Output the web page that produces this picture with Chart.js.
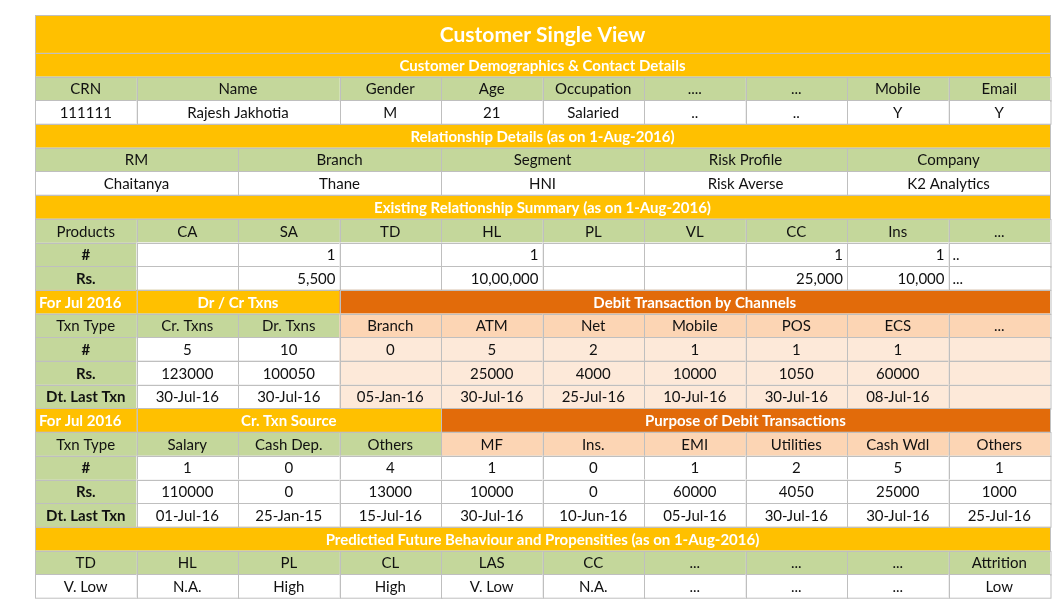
<!DOCTYPE html>
<html><head><meta charset="utf-8">
<script src="https://cdn.jsdelivr.net/npm/chart.js@4/dist/chart.umd.min.js"></script>
<style>html,body{margin:0;padding:0;background:#fff}#c{display:block}</style>
</head><body>
<div style="width:1060px;height:606px"><canvas id="c"></canvas></div>
<script>
// Each row: list of cells [span(columns of 10), text, style]
const rowHeights = [1.6,1,1,1,1,1,1,1,1,1,1,1,1,1,1,1,1,1,1,1,1,1,1,1];
const rowTitle = [[10,'Customer Single View','title']];
const rowDemoHead = [[10,'Customer Demographics & Contact Details','sec']];
const rowDemoCols = [[1,'CRN','g'],[2,'Name','g'],[1,'Gender','g'],[1,'Age','g'],[1,'Occupation','g'],[1,'....','g'],[1,'...','g'],[1,'Mobile','g'],[1,'Email','g']];
const rowDemoVals = [[1,'111111','w'],[2,'Rajesh Jakhotia','w'],[1,'M','w'],[1,'21','w'],[1,'Salaried','w'],[1,'..','w'],[1,'..','w'],[1,'Y','w'],[1,'Y','w']];
const rowRelHead = [[10,'Relationship Details (as on 1-Aug-2016)','sec']];
const rowRelCols = [[2,'RM','g'],[2,'Branch','g'],[2,'Segment','g'],[2,'Risk Profile','g'],[2,'Company','g']];
const rowRelVals = [[2,'Chaitanya','w'],[2,'Thane','w'],[2,'HNI','w'],[2,'Risk Averse','w'],[2,'K2 Analytics','w']];
const rowSumHead = [[10,'Existing Relationship Summary (as on 1-Aug-2016)','sec']];
const products = ['Products','CA','SA','TD','HL','PL','VL','CC','Ins','...'];
const productCounts = ['','1','','1','','','1','1'];
const productAmounts = ['','5,500','','10,00,000','','','25,000','10,000'];
const rowSumCols = products.map(t=>[1,t,'g']);
const rowSumCnt = [[1,'#','gB']].concat(productCounts.map(t=>[1,t,'wR']),[[1,'..','wL']]);
const rowSumAmt = [[1,'Rs.','gB']].concat(productAmounts.map(t=>[1,t,'wR']),[[1,'...','wL']]);
const rowChHead = [[1,'For Jul 2016','secL'],[2,'Dr / Cr Txns','sec'],[7,'Debit Transaction by Channels','dark']];
const channels = ['Branch','ATM','Net','Mobile','POS','ECS','...'];
const rowChCols = [[1,'Txn Type','g'],[1,'Cr. Txns','g'],[1,'Dr. Txns','g']].concat(channels.map(t=>[1,t,'p']));
const chCount = ['5','10','0','5','2','1','1','1',''];
const chAmount = ['123000','100050','','25000','4000','10000','1050','60000',''];
const chDate = ['30-Jul-16','30-Jul-16','05-Jan-16','30-Jul-16','25-Jul-16','10-Jul-16','30-Jul-16','08-Jul-16',''];
const chRow = (lab,arr)=>[[1,lab,'gB']].concat(arr.map((t,i)=>[1,t,i<2?'w':'lp']));
const rowPuHead = [[1,'For Jul 2016','secL'],[3,'Cr. Txn Source','sec'],[6,'Purpose of Debit Transactions','dark']];
const purposeCols = ['MF','Ins.','EMI','Utilities','Cash Wdl','Others'];
const rowPuCols = [[1,'Txn Type','g'],[1,'Salary','g'],[1,'Cash Dep.','g'],[1,'Others','g']].concat(purposeCols.map(t=>[1,t,'p']));
const puCount = ['1','0','4','1','0','1','2','5','1'];
const puAmount = ['110000','0','13000','10000','0','60000','4050','25000','1000'];
const puDate = ['01-Jul-16','25-Jan-15','15-Jul-16','30-Jul-16','10-Jun-16','05-Jul-16','30-Jul-16','30-Jul-16','25-Jul-16'];
const puRow = (lab,arr)=>[[1,lab,'gB']].concat(arr.map(t=>[1,t,'w']));
const rowPrHead = [[10,'Predictied Future Behaviour and Propensities (as on 1-Aug-2016)','sec']];
const predCols = ['TD','HL','PL','CL','LAS','CC','...','...','...','Attrition'];
const predVals = ['V. Low','N.A.','High','High','V. Low','N.A.','...','...','...','Low'];

const rows = [rowTitle,rowDemoHead,rowDemoCols,rowDemoVals,rowRelHead,rowRelCols,rowRelVals,rowSumHead,rowSumCols,rowSumCnt,rowSumAmt,
  rowChHead,rowChCols,chRow('#',chCount),chRow('Rs.',chAmount),chRow('Dt. Last Txn',chDate),
  rowPuHead,rowPuCols,puRow('#',puCount),puRow('Rs.',puAmount),puRow('Dt. Last Txn',puDate),
  rowPrHead,predCols.map(t=>[1,t,'g']),predVals.map(t=>[1,t,'w'])];
const totalRows = rows.reduce((s,r,i)=>s+rowHeights[i],0);

const styles = {
  title:{bg:'#FFC000',fg:'#fff',font:'bold 21px Lato',al:'center'},
  sec:{bg:'#FFC000',fg:'#fff',font:'bold 15px Lato',al:'center'},
  secL:{bg:'#FFC000',fg:'#fff',font:'bold 15px Lato',al:'left'},
  dark:{bg:'#E26B0A',fg:'#fff',font:'bold 15px Lato',al:'center'},
  g:{bg:'#C4D79B',fg:'#111',font:'15px Lato',al:'center'},
  gB:{bg:'#C4D79B',fg:'#111',font:'bold 15px Lato',al:'center'},
  w:{bg:'#fff',fg:'#111',font:'15px Lato',al:'center'},
  wR:{bg:'#fff',fg:'#111',font:'15px Lato',al:'right'},
  wL:{bg:'#fff',fg:'#111',font:'15px Lato',al:'left'},
  p:{bg:'#FCD5B4',fg:'#111',font:'15px Lato',al:'center'},
  lp:{bg:'#FDE9D9',fg:'#111',font:'15px Lato',al:'center'}
};

const tablePlugin = {id:'table',afterDraw(chart){
  const ctx=chart.ctx, xs=chart.scales.x, ys=chart.scales.y;
  let yv=0;
  rows.forEach((row,ri)=>{
    const y0=ys.getPixelForValue(yv), y1=ys.getPixelForValue(yv+rowHeights[ri]);
    let xv=0;
    row.forEach(([span,text,sk])=>{
      const x0=xs.getPixelForValue(xv), x1=xs.getPixelForValue(xv+span);
      const st=styles[sk];
      ctx.fillStyle=st.bg; ctx.fillRect(x0,y0,x1-x0,y1-y0);
      ctx.strokeStyle='#BFBFBF'; ctx.lineWidth=1; ctx.strokeRect(Math.round(x0)+0.5,Math.round(y0)+0.5,x1-x0,y1-y0);
      ctx.fillStyle=st.fg; ctx.font=st.font; ctx.textBaseline='middle';
      let tx=(x0+x1)/2; ctx.textAlign='center';
      if(st.al==='right'){tx=x1-4;ctx.textAlign='right';}
      if(st.al==='left'){tx=x0+4;ctx.textAlign='left';}
      ctx.fillText(text,tx,(y0+y1)/2+1);
      xv+=span;
    });
    yv+=rowHeights[ri];
  });
}};

new Chart(document.getElementById('c'),{
  type:'scatter',
  data:{datasets:[{data:[]}]},
  options:{responsive:true,maintainAspectRatio:false,animation:false,
    layout:{padding:{left:35,right:10,top:15,bottom:8}},
    plugins:{legend:{display:false},tooltip:{enabled:false}},
    scales:{x:{type:'linear',min:0,max:10,display:false},
            y:{type:'linear',min:0,max:totalRows,reverse:true,display:false}}},
  plugins:[tablePlugin]
});
</script>
</body></html>
